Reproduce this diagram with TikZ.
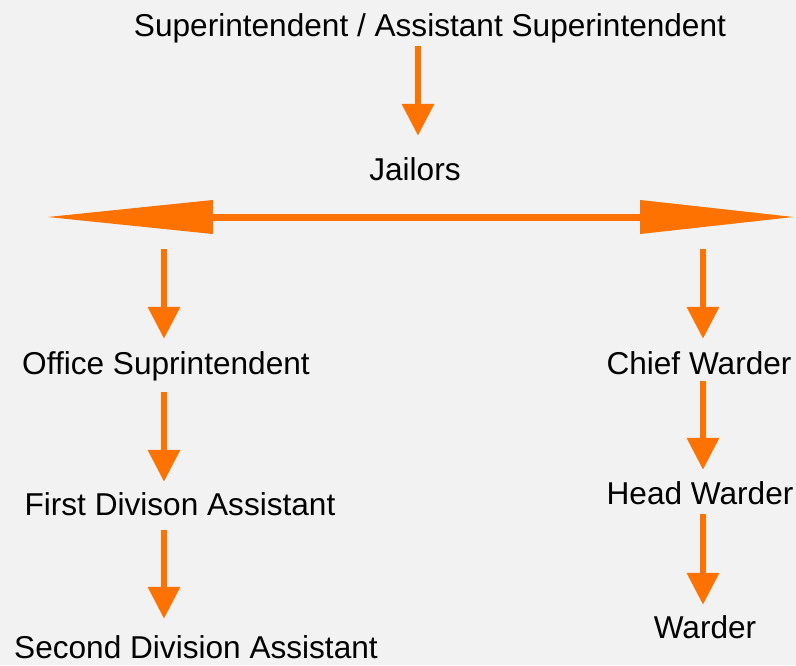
\documentclass[tikz,border=0pt]{standalone}
\usepackage{fontspec}
\setmainfont{Liberation Sans}
\usetikzlibrary{arrows.meta}
\definecolor{jailorange}{RGB}{253,114,0}
\definecolor{jailgray}{RGB}{242,242,242}

\begin{document}
\begin{tikzpicture}[x=1pt,y=-1pt,
    rank/.style={inner sep=0pt, anchor=base, text height=23pt, text depth=7pt,
      font=\fontsize{31.6pt}{36pt}\selectfont},
    down/.style={draw=jailorange, line width=6.5pt, -{Triangle[length=32pt,width=31pt]}},
    wide/.style={draw=jailorange, line width=7pt,
      {Triangle[length=168pt,width=32pt]}-{Triangle[length=156pt,width=32pt]}}]
    \path[use as bounding box, fill=jailgray] (0,0) rectangle (796,665);
    \node[rank] (supt) at (430,36) {Superintendent / Assistant Superintendent};
    \node[rank] (jail) at (415,180) {Jailors};
    \coordinate (lt) at (45,217);
    \coordinate (rt) at (796,217);
    \coordinate (mcol) at (418,0);
    \coordinate (lcol) at (164,0);
    \coordinate (rcol) at (703,0);
    \node[rank] (off) at (166,374) {Office Suprintendent};
    \node[rank] (fda) at (180,515) {First Divison Assistant};
    \node[rank] (sda) at (196,658) {Second Division Assistant};
    \node[rank] (chief) at (699,374) {Chief Warder};
    \node[rank] (head) at (700,504) {Head Warder};
    \node[rank] (ward) at (705,638) {Warder};
    \draw[down, shorten <=3pt, shorten >=21pt] (mcol |- supt.south) -- (mcol |- jail.north);
    \draw[wide] (lt) -- (rt);
    \draw[down, shorten <=32pt, shorten >=12pt] (lcol |- lt) -- (lcol |- off.north);
    \draw[down, shorten <=11pt, shorten >=10pt] (lcol |- off.south) -- (lcol |- fda.north);
    \draw[down, shorten <=8pt, shorten >=16pt] (lcol |- fda.south) -- (lcol |- sda.north);
    \draw[down, shorten <=32pt, shorten >=12pt] (rcol |- rt) -- (rcol |- chief.north);
    \draw[down, shorten >=11pt] (rcol |- chief.south) -- (rcol |- head.north);
    \draw[down, shorten <=3pt, shorten >=10pt] (rcol |- head.south) -- (rcol |- ward.north);
\end{tikzpicture}
\end{document}
